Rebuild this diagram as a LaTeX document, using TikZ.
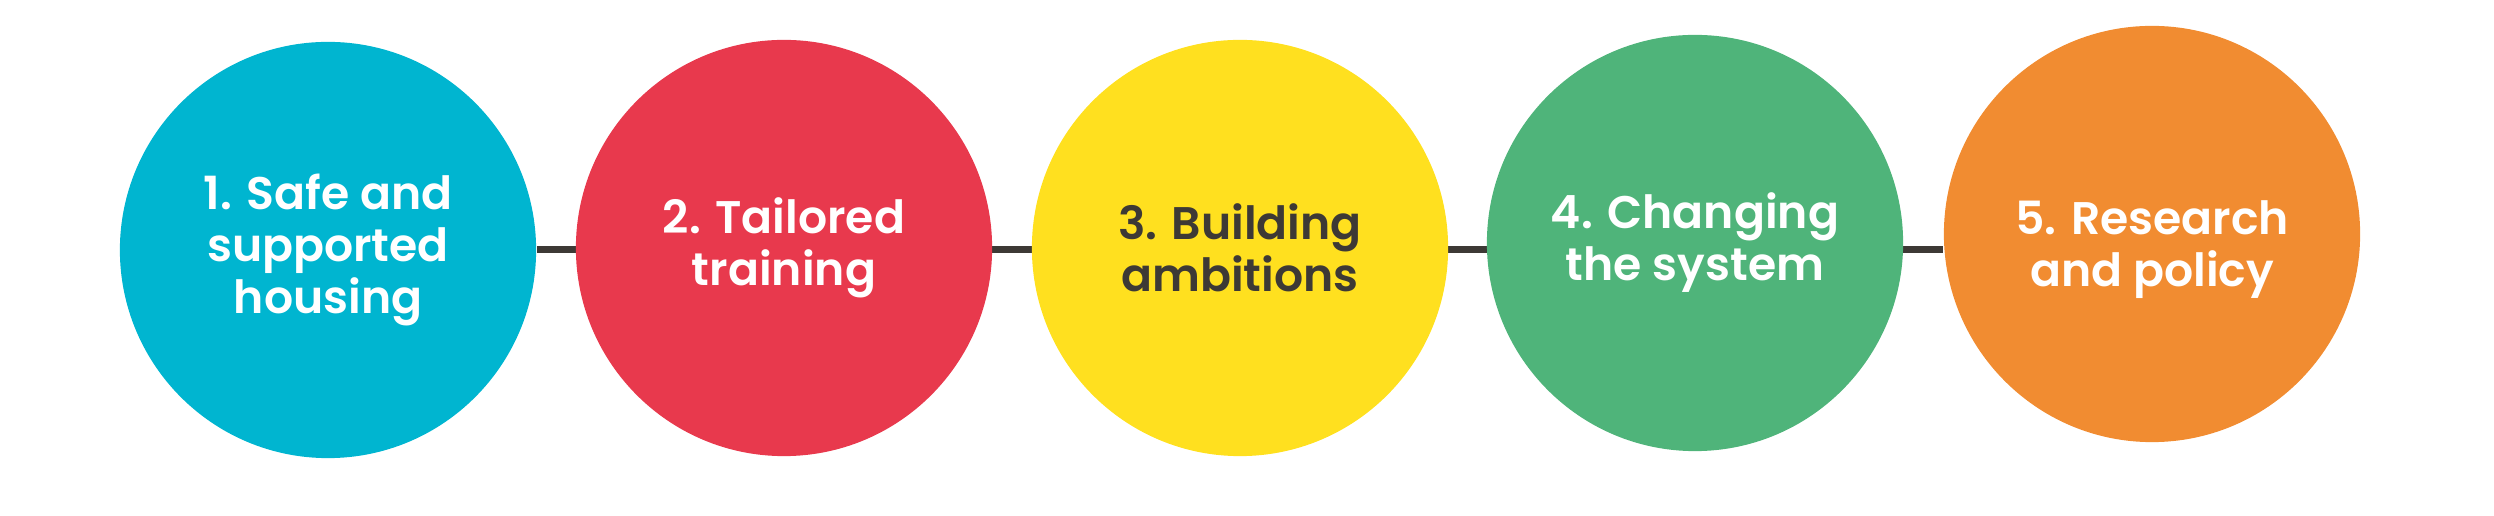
\documentclass[tikz,border=0pt]{standalone}
\usepackage{xcolor}
\usepackage{fontspec}
\setmainfont{Poppins}[BoldFont={Poppins SemiBold}]
\usepackage{tikz}
\usetikzlibrary{backgrounds}

\definecolor{stageblue}{HTML}{00B5D0}
\definecolor{stagered}{HTML}{E8394D}
\definecolor{stageyellow}{HTML}{FFE01F}
\definecolor{stagegreen}{HTML}{4FB47A}
\definecolor{stageorange}{HTML}{F18C31}
\definecolor{darkline}{HTML}{3D3935}

\begin{document}
\begin{tikzpicture}[x=0.01cm, y=-0.01cm,
  stagetext/.style={align=center, text=white, font=\fontsize{13}{14.8}\selectfont\bfseries},
  stage/.style={circle, minimum size=4.16cm, inner sep=0pt, stagetext},
  link/.style={draw=darkline, line width=0.07cm}]
\useasboundingbox (0,0) rectangle (2494,516);
\node[stage, fill=stageblue] (housing) at (328,250) {1. Safe and\\supported\\housing};
\node[stage, fill=stagered] (training) at (784,248) {2. Tailored\\training};
\node[stage, fill=stageyellow, text=darkline] (ambitions) at (1240,248) {3. Building\\ambitions};
\node[stage, fill=stagegreen] (system) at (1695,243) {4. Changing\\the system};
\node[stage, fill=stageorange, label={[stagetext, yshift=-0.16cm]center:5. Research\\and policy}] (research) at (2152,234) {};
\begin{scope}[on background layer]
\draw[link] (housing.east) -- (research.west |- housing.east);
\end{scope}
\end{tikzpicture}
\end{document}
